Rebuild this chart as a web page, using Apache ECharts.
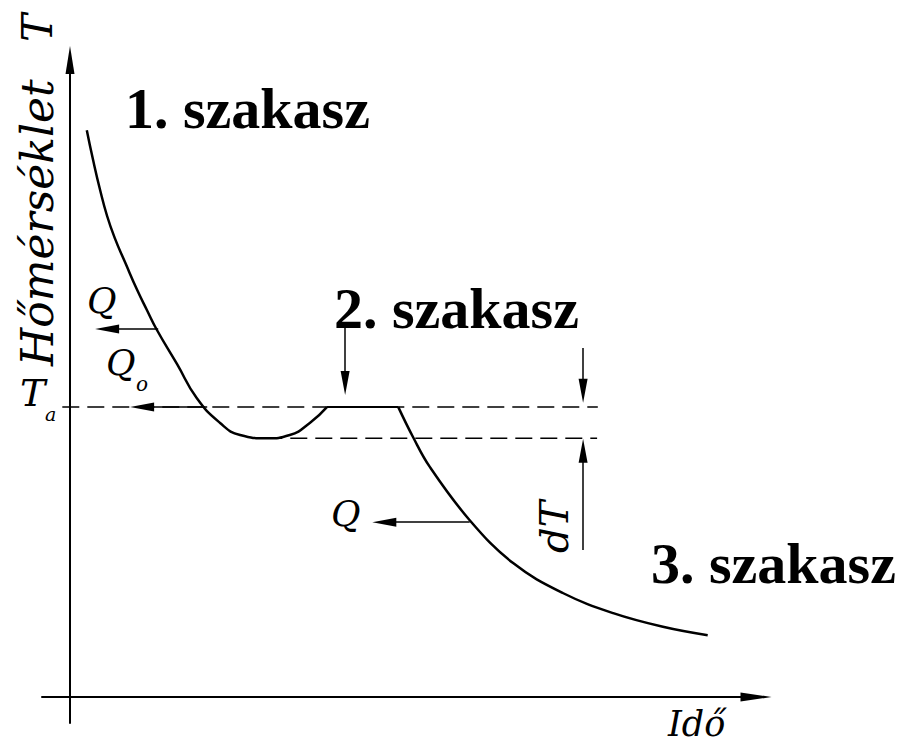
<!DOCTYPE html>
<html>
<head>
<meta charset="utf-8">
<script src="https://cdn.jsdelivr.net/npm/echarts@6/dist/echarts.min.js"></script>
<style>
  html, body { margin: 0; padding: 0; background: #fff; }
  #chart { width: 911px; height: 746px; }
</style>
</head>
<body>
<div id="chart"></div>
<script>
// 1. szakasz: hűlés és túlhűlés
const stage1Time = [2.4, 3.3, 4.3, 5.3, 6.4, 7.9, 9.6, 11.0, 12.4, 15.3, 18.1, 21.4, 24.3, 28.1, 31.4, 34.3, 36.7]
const stage1Temp = [87.2, 82.6, 78.0, 74.0, 70.6, 66.8, 62.6, 59.5, 56.5, 51.2, 46.0, 42.2, 40.3, 39.8, 40.3, 42.2, 44.6]
// 2. szakasz: állandó hőmérséklet
const stage2Time = [36.7, 46.9]
// 3. szakasz: hűlés
const stage3Time = [46.9, 49.0, 51.4, 57.1, 63.3, 70.4, 77.6, 84.7, 91.1]
const stage3Temp = [44.6, 40.0, 35.4, 27.2, 20.6, 16.0, 12.9, 10.8, 9.5]
// Ta és a túlhűlés alja
const tempTa = 44.6
const tempMin = 39.8
const dashTa = [-1.1, 75.4]
const dashMin = [27.9, 75.3]
// nyilak: [x1, y1, x2, y2]
const arrows = [
  [12.6, 56.6, 5.3, 56.6],   // Q
  [19.6, 44.6, 10.3, 44.6],  // Q0
  [39.3, 56.9, 39.3, 48.3],  // 2. szakasz
  [73.3, 53.7, 73.3, 47.1],  // dT felső
  [73.3, 22.6, 73.3, 37.9],  // dT alsó
  [57.1, 26.9, 44.9, 26.9]   // Q alsó
]

const zip = (xs, ys) => xs.map((x, i) => [x, ys[i]])
const black = '#000'
const boldFont = 'bold 58px "Liberation Serif"'
const ital = size => 'italic ' + size + 'px "DejaVu Serif"'

function txt (x, y, text, font, rotation) {
  return {
    type: 'text',
    x: x,
    y: y,
    rotation: rotation || 0,
    style: {
      text: text,
      font: font,
      fill: black,
      align: 'left',
      verticalAlign: 'middle',
      textAlign: 'left',
      textVerticalAlign: 'middle'
    }
  }
}

const chart = echarts.init(document.getElementById('chart'), null, { renderer: 'svg' })
const option = {
  animation: false,
  backgroundColor: '#fff',
  grid: { left: 42, top: 60, right: 155, bottom: 23, outerBoundsMode: 'none' },
  xAxis: {
    type: 'value',
    min: -4,
    max: 98,
    axisLine: {
      onZero: true,
      symbol: ['none', 'triangle'],
      symbolSize: [9, 31],
      lineStyle: { color: black, width: 2 }
    },
    axisTick: { show: false },
    axisLabel: { show: false },
    splitLine: { show: false }
  },
  yAxis: {
    type: 'value',
    min: -4,
    max: 98,
    axisLine: {
      onZero: true,
      symbol: ['none', 'triangle'],
      symbolSize: [9, 28],
      lineStyle: { color: black, width: 2 }
    },
    axisTick: { show: false },
    axisLabel: { show: false },
    splitLine: { show: false }
  },
  series: [
    {
      type: 'line',
      data: [[dashTa[0], tempTa], [dashTa[1], tempTa]],
      symbol: 'none',
      silent: true,
      lineStyle: { color: black, width: 1.5, type: [17, 8] }
    },
    {
      type: 'line',
      data: [[dashMin[0], tempMin], [dashMin[1], tempMin]],
      symbol: 'none',
      silent: true,
      lineStyle: { color: black, width: 1.5, type: [17, 8] }
    },
    {
      type: 'line',
      data: zip(stage1Time, stage1Temp),
      smooth: 0.5,
      symbol: 'none',
      silent: true,
      lineStyle: { color: black, width: 2.5 }
    },
    {
      type: 'line',
      data: stage2Time.map(t => [t, tempTa]),
      symbol: 'none',
      silent: true,
      lineStyle: { color: black, width: 2 },
      markLine: {
        silent: true,
        symbol: ['none', 'triangle'],
        symbolSize: [9, 24],
        label: { show: false },
        lineStyle: { color: black, width: 1.5, type: 'solid' },
        emphasis: { disabled: true },
        data: arrows.map(a => [{ coord: [a[0], a[1]] }, { coord: [a[2], a[3]] }])
      }
    },
    {
      type: 'line',
      data: zip(stage3Time, stage3Temp),
      smooth: 0.4,
      symbol: 'none',
      silent: true,
      lineStyle: { color: black, width: 2.5 }
    }
  ],
  graphic: [
    txt(125, 108, '1. szakasz', boldFont),
    txt(334, 308, '2. szakasz', boldFont),
    txt(651, 563, '3. szakasz', boldFont),
    txt(37, 366, 'Hőmérséklet', ital(44), Math.PI / 2),
    txt(37, 42, 'T', ital(42), Math.PI / 2),
    txt(20, 393, 'T', ital(38)),
    txt(45, 414, 'a', ital(19)),
    txt(87, 300, 'Q', ital(36)),
    txt(106, 362, 'Q', ital(36)),
    txt(136, 384, 'o', ital(20)),
    txt(331, 513, 'Q', ital(36)),
    txt(554, 553, 'dT', ital(40), Math.PI / 2),
    txt(668, 724, 'Idő', ital(35))
  ]
}
chart.setOption(option)
</script>
</body>
</html>
